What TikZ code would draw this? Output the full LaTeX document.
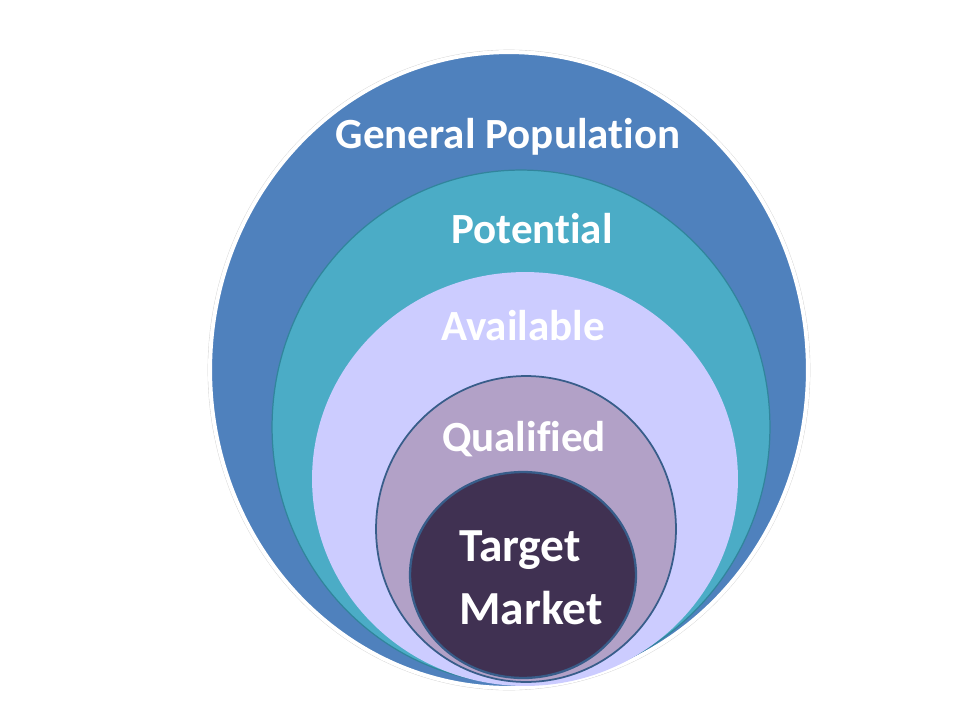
\documentclass[tikz,border=0pt]{standalone}
\usepackage{fontspec}
\setmainfont{Carlito}[Ligatures=NoCommon]
\usepackage{tikz}
\usetikzlibrary{shapes.geometric,positioning}
\definecolor{genblue}{HTML}{4F81BD}
\definecolor{potteal}{HTML}{4BACC6}
\definecolor{tealline}{HTML}{31859C}
\definecolor{avlav}{HTML}{CCCCFF}
\definecolor{qualmauve}{HTML}{B2A1C7}
\definecolor{tgtpurple}{HTML}{403152}
\definecolor{navyline}{HTML}{385D8A}

\begin{document}
\begin{tikzpicture}[x=0.02cm,y=-0.02cm,
    ring/.style={ellipse, inner sep=0pt},
    lbl/.style={text=white, font=\bfseries\fontsize{24.5}{29}\selectfont, anchor=base}]
         \useasboundingbox (0,0) rectangle (960,720);
         % Define rings
         \node[ring, fill=genblue, draw=white, line width=0.08cm,
               preaction={draw=gray!35, line width=0.095cm},
               minimum width=11.96cm, minimum height=12.72cm] (gen) at (509,370) {};
         \node[ring, fill=potteal, draw=tealline, line width=0.7pt,
               minimum width=9.96cm, minimum height=10.28cm] (pot) at (521,427) {};
         \node[ring, fill=avlav,
               minimum width=8.52cm, minimum height=8.28cm] (avl) at (525,479) {};
         \node[ring, fill=qualmauve, draw=navyline, line width=1pt,
               minimum width=6.00cm, minimum height=6.12cm] (qual) at (526,529) {};
         \node[ring, fill=tgtpurple, draw=navyline, line width=1.3pt,
               minimum width=4.52cm, minimum height=4.12cm] (tgt) at (523,575) {};

         % Draw labels
         \node[lbl] (genlbl) at (508,148) {General Population};
         \node[lbl] (potlbl) at (532,243) {Potential};
         \node[lbl] (avllbl) at (523,340) {Available};
         \node[lbl] (quallbl) at (524,451) {Qualified};
         \node[text=white, font=\bfseries\fontsize{27}{36}\selectfont, align=left,
               inner sep=0pt, anchor=north west] (tgtlbl) at (459,530) {Target\\Market};
       \end{tikzpicture}
\end{document}
